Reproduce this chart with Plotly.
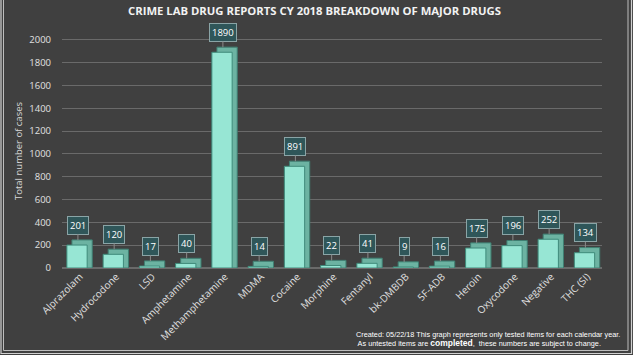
import plotly.graph_objects as go

drugs = ["Alprazolam", "Hydrocodone", "LSD", "Amphetamine", "Methamphetamine", "MDMA",
         "Cocaine", "Morphine", "Fentanyl", "bk-DMBDB", "5F-ADB", "Heroin",
         "Oxycodone", "Negative", "THC (SI)"]
cases = [201, 120, 17, 40, 1890, 14, 891, 22, 41, 9, 16, 175, 196, 252, 134]
y_ticks = [0, 200, 400, 600, 800, 1000, 1200, 1400, 1600, 1800, 2000]

W, H = 633, 355
ML, MR, MT, MB = 62, 31, 34, 87
PW, PH = W - ML - MR, H - MT - MB
DEPTH = 45  # visual depth of pseudo-3D bars, in data units

def px_x(X):
    return (X - ML) / PW

def px_y(Y):
    return (H - MB - Y) / PH

fig = go.Figure()

# depth (side/top) of pseudo-3D bars
fig.add_trace(go.Bar(
    x=drugs, y=[v + DEPTH for v in cases], width=0.56, offset=-0.22,
    marker=dict(color="#6cb3a2", line=dict(color="#3f7f72", width=1)),
    hoverinfo="skip", showlegend=False))
# front face
fig.add_trace(go.Bar(
    x=drugs, y=cases, width=0.56, offset=-0.36,
    marker=dict(color="#97e6d4", line=dict(color="#3f8a7a", width=1)),
    showlegend=False))

for d, v in zip(drugs, cases):
    fig.add_annotation(
        x=d, y=v, xshift=-2, text=str(v), showarrow=True, arrowhead=0,
        arrowwidth=1, arrowcolor="#8a8a8a", ax=0, ay=-20, standoff=5,
        font=dict(family="Open Sans, Liberation Sans, sans-serif", size=9.5, color="#ffffff"),
        bgcolor="#2f5659", bordercolor="#8aa4a6", borderwidth=1, borderpad=2)

fig.add_annotation(
    xref="paper", yref="paper", x=px_x(622), y=px_y(328), xanchor="right", yanchor="top",
    align="left", showarrow=False,
    text=("Created: 05/22/18 This graph represents only tested items for each calendar year.<br>"
          " As untested items are <span style='font-size:8.5px'><b>completed</b></span>,  these numbers are subject to change."),
    font=dict(family="Liberation Sans, sans-serif", size=7.3, color="#ffffff"))

# frame
shapes = [
    dict(type="rect", xref="paper", yref="paper", x0=px_x(1), x1=px_x(631.5), y0=px_y(353.5), y1=px_y(-2),
         line=dict(color="#d0d0d0", width=1.2)),
    dict(type="rect", xref="paper", yref="paper", x0=px_x(3.5), x1=px_x(628), y0=px_y(350.5), y1=px_y(-2),
         line=dict(color="#bdbdbd", width=1)),
]

fig.update_layout(
    width=W, height=H,
    margin=dict(l=ML, r=MR, t=MT, b=MB, autoexpand=False),
    paper_bgcolor="#404040", plot_bgcolor="#404040",
    barmode="overlay", bargap=0.3,
    title=dict(text="<b>CRIME LAB DRUG REPORTS CY 2018 BREAKDOWN OF MAJOR DRUGS</b>",
               x=(314.5 / W), xanchor="center", y=1 - 11 / H, yanchor="middle", yref="container",
               automargin=False,
               font=dict(family="Open Sans, Liberation Sans, sans-serif", size=11.3, color="#f2f2f2")),
    font=dict(family="Open Sans, Liberation Sans, sans-serif", color="#d9d9d9"),
    shapes=shapes,
)
fig.update_xaxes(
    tickangle=-45, tickfont=dict(size=10, color="#e0e0e0"), showgrid=False,
    showline=False, ticks="", range=[-0.494, 14.403], automargin=False)
fig.update_yaxes(
    range=[0, 2050], tickvals=y_ticks, tickfont=dict(size=9.5, color="#e0e0e0"),
    showgrid=True, gridcolor="#6a6a6a", gridwidth=1, zeroline=True, zerolinecolor="#6a6a6a",
    ticks="", ticklabelstandoff=10, automargin=False,
    title=dict(text="Total number of cases", font=dict(size=9.5, color="#d9d9d9"), standoff=4))

fig.write_html("out.html", post_script="document.body.style.margin='0px';",
               config={"displayModeBar": False})
